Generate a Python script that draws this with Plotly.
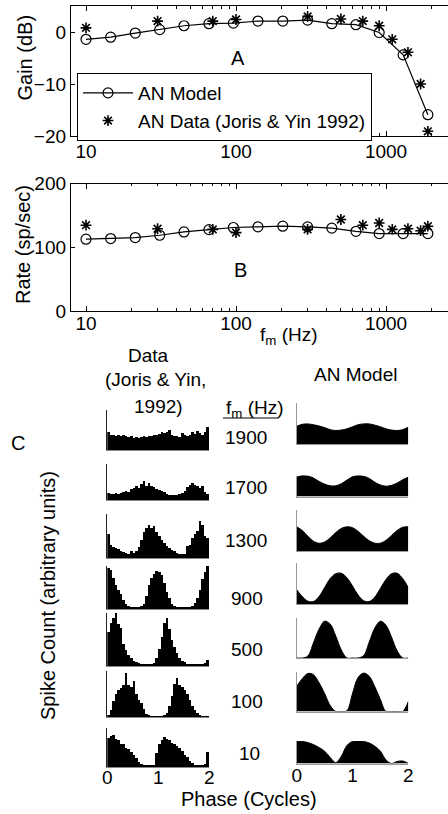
import plotly.graph_objects as go

W, H = 448, 814
FONT = "Liberation Sans"

# ---------------- Panels A / B data ----------------
fm_model = [10, 14.6, 21.3, 31, 45, 66, 96, 140, 205, 300, 435, 630, 900, 1300, 1900]
gain_model = [-1.4, -1.0, -0.2, 0.45, 1.2, 1.6, 1.7, 2.1, 2.1, 2.3, 1.6, 1.4, -0.1, -4.4, -15.9]
rate_model = [112.6, 113.6, 115.2, 118.8, 124, 127.7, 131, 132, 133, 132, 130, 125, 121.5, 121.5, 121.5]

fm_data = [10, 30, 70, 100, 300, 500, 700, 900, 1100, 1400, 1700, 1900]
gain_data = [0.8, 2.1, 2.1, 2.4, 3.0, 2.5, 2.1, 1.2, -1.4, -3.9, -10.0, -19.1]
rate_data = [134.6, 129, 128, 123, 128, 143.5, 134.6, 138, 128, 129, 126, 133]

x_ticks = [10, 100, 1000]
x_tick_text = ["10", "100", "1000"]
x_minor_ticks = [20, 30, 40, 50, 60, 70, 80, 90, 200, 300, 400, 500, 600, 700, 800, 900, 2000]
gain_ticks = [-20, -10, 0]
rate_ticks = [0, 100, 200]

# ---------------- Panel C data ----------------
row_labels = ["1900", "1700", "1300", "900", "500", "100", "10"]
phase_bin_centers = [round(0.025 + 0.05 * i, 3) for i in range(40)]
phase_bin_width = 0.05

hist_1900 = [0.45, 0.38, 0.37, 0.36, 0.38, 0.35, 0.37, 0.34, 0.33, 0.36, 0.31, 0.33, 0.30, 0.32, 0.35, 0.33, 0.36, 0.34, 0.38, 0.37,
             0.40, 0.46, 0.42, 0.44, 0.50, 0.38, 0.34, 0.36, 0.33, 0.42, 0.37, 0.35, 0.37, 0.44, 0.40, 0.47, 0.42, 0.38, 0.45, 0.58]
hist_1700 = [0.20, 0.18, 0.17, 0.19, 0.17, 0.20, 0.22, 0.24, 0.22, 0.30, 0.33, 0.38, 0.32, 0.45, 0.52, 0.40, 0.48, 0.38, 0.35, 0.30,
             0.28, 0.25, 0.22, 0.18, 0.15, 0.13, 0.14, 0.15, 0.16, 0.20, 0.25, 0.35, 0.42, 0.46, 0.43, 0.40, 0.32, 0.38, 0.22, 0.18]
hist_1300 = [0.55, 0.30, 0.25, 0.22, 0.20, 0.15, 0.14, 0.12, 0.10, 0.16, 0.12, 0.15, 0.25, 0.42, 0.60, 0.68, 0.74, 0.68, 0.72, 0.60,
             0.50, 0.42, 0.35, 0.28, 0.22, 0.18, 0.15, 0.12, 0.10, 0.08, 0.10, 0.28, 0.30, 0.45, 0.55, 0.62, 0.85, 0.75, 0.50, 0.45]
hist_900 = [0.95, 0.90, 0.72, 0.55, 0.45, 0.35, 0.20, 0.12, 0.08, 0.05, 0.04, 0.05, 0.04, 0.06, 0.12, 0.30, 0.55, 0.72, 0.82, 0.88,
            0.85, 0.80, 0.60, 0.40, 0.25, 0.12, 0.06, 0.04, 0.03, 0.04, 0.03, 0.04, 0.05, 0.08, 0.15, 0.25, 0.45, 0.70, 0.85, 1.00]
hist_500 = [0.65, 0.82, 0.90, 1.00, 0.80, 0.72, 0.42, 0.30, 0.20, 0.15, 0.10, 0.07, 0.05, 0.04, 0.03, 0.03, 0.03, 0.04, 0.06, 0.15,
            0.32, 0.55, 0.82, 0.90, 0.70, 0.50, 0.35, 0.25, 0.15, 0.10, 0.07, 0.04, 0.03, 0.03, 0.03, 0.03, 0.04, 0.03, 0.05, 0.12]
hist_100 = [0.05, 0.15, 0.35, 0.50, 0.58, 0.62, 0.70, 0.95, 0.70, 0.65, 0.78, 0.50, 0.38, 0.30, 0.18, 0.06, 0.03, 0.02, 0.02, 0.02,
            0.02, 0.02, 0.03, 0.08, 0.25, 0.45, 0.72, 0.85, 0.70, 0.65, 0.58, 0.50, 0.38, 0.25, 0.15, 0.08, 0.04, 0.02, 0.02, 0.02]
hist_10 = [0.75, 0.80, 0.82, 0.72, 0.68, 0.60, 0.58, 0.50, 0.45, 0.38, 0.30, 0.22, 0.12, 0.07, 0.05, 0.04, 0.04, 0.05, 0.04, 0.35,
           0.60, 0.70, 0.76, 0.72, 0.70, 0.62, 0.60, 0.55, 0.48, 0.42, 0.32, 0.25, 0.15, 0.10, 0.05, 0.04, 0.04, 0.05, 0.08, 0.38]
data_hists = [hist_1900, hist_1700, hist_1300, hist_900, hist_500, hist_100, hist_10]

model_phase = [0.0, 0.1, 0.2, 0.3, 0.4, 0.5, 0.6, 0.7, 0.8, 0.9, 1.0, 1.1, 1.2, 1.3, 1.4, 1.5, 1.6, 1.7, 1.8, 1.9, 2.0]
model_1900 = [0.43, 0.48, 0.49, 0.47, 0.44, 0.40, 0.35, 0.33, 0.34, 0.37, 0.42, 0.47, 0.49, 0.49, 0.46, 0.42, 0.37, 0.34, 0.33, 0.35, 0.41]
model_1700 = [0.92, 1.00, 0.98, 0.88, 0.72, 0.59, 0.51, 0.51, 0.61, 0.78, 0.94, 1.00, 0.96, 0.86, 0.68, 0.55, 0.49, 0.53, 0.64, 0.80, 0.92]
model_1300 = [0.59, 0.50, 0.36, 0.24, 0.19, 0.22, 0.32, 0.45, 0.55, 0.59, 0.57, 0.48, 0.36, 0.25, 0.19, 0.19, 0.26, 0.38, 0.50, 0.58, 0.59]
model_900 = [0.35, 0.18, 0.07, 0.06, 0.18, 0.40, 0.62, 0.74, 0.75, 0.64, 0.44, 0.22, 0.08, 0.06, 0.17, 0.38, 0.60, 0.74, 0.75, 0.62, 0.40]
model_500 = [0.0, 0.0, 0.05, 0.38, 0.72, 0.92, 0.85, 0.55, 0.20, 0.0, 0.0, 0.0, 0.06, 0.40, 0.75, 0.92, 0.82, 0.52, 0.18, 0.0, 0.0]
model_100 = [0.63, 0.82, 0.95, 0.92, 0.72, 0.45, 0.15, 0.0, 0.0, 0.02, 0.45, 0.85, 0.96, 0.88, 0.62, 0.30, 0.0, 0.0, 0.0, 0.0, 0.25]
model_10 = [1.00, 0.98, 0.93, 0.84, 0.71, 0.55, 0.27, 0.04, 0.32, 0.80, 0.98, 1.00, 0.98, 0.91, 0.77, 0.55, 0.16, 0.0, 0.09, 0.11, 0.0]
model_curves = [model_1900, model_1700, model_1300, model_900, model_500, model_100, model_10]

# ---------------- layout geometry (pixels) ----------------
def px_x(p):
    return p / W

def px_y(p):
    return 1 - p / H

# (bottom px, top px) of each small panel
data_rows_px = [(450, 410), (500, 464), (558, 514), (609, 566), (666, 613), (717, 671), (767, 728)]
model_rows_px = [(444, 403), (496.5, 475.5), (551, 510), (604, 563), (658, 618), (711.5, 671.5), (763.5, 741)]
data_x_px = (107.3, 209.3)
model_x_px = (296.7, 408.3)

fig = go.Figure()

# Panel A
fig.add_trace(go.Scatter(x=fm_model, y=gain_model, mode="lines+markers", name="AN Model",
                         line=dict(color="black", width=1.2),
                         marker=dict(symbol="circle-open", size=10, color="black", line=dict(width=1.2)),
                         xaxis="x", yaxis="y"))
fig.add_trace(go.Scatter(x=fm_data, y=gain_data, mode="markers", name="AN Data (Joris & Yin 1992)",
                         marker=dict(symbol="asterisk-open", size=9, color="black", line=dict(width=1.6, color="black")),
                         xaxis="x", yaxis="y"))
# Panel B
fig.add_trace(go.Scatter(x=fm_model, y=rate_model, mode="lines+markers", showlegend=False,
                         line=dict(color="black", width=1.2),
                         marker=dict(symbol="circle-open", size=10, color="black", line=dict(width=1.2)),
                         xaxis="x2", yaxis="y2"))
fig.add_trace(go.Scatter(x=fm_data, y=rate_data, mode="markers", showlegend=False,
                         marker=dict(symbol="asterisk-open", size=9, color="black", line=dict(width=1.6, color="black")),
                         xaxis="x2", yaxis="y2"))

main_x = dict(type="log", range=[0.9, 3.413], domain=[px_x(71), 1.0], showgrid=False, zeroline=False,
              showline=True, linecolor="black", linewidth=1.3, mirror="ticks", ticks="inside", ticklen=5,
              tickcolor="black", tickvals=x_ticks, ticktext=x_tick_text, automargin=False,
              minor=dict(ticks="inside", ticklen=2.5, tickcolor="black", tickvals=x_minor_ticks, showgrid=False),
              tickfont=dict(family=FONT, size=19, color="black"))
main_y = dict(showgrid=False, zeroline=False, showline=True, linecolor="black", linewidth=1.3,
              ticks="inside", ticklen=4, tickcolor="black", automargin=False,
              tickfont=dict(family=FONT, size=19, color="black"))

layout = dict(
    template="none",
    width=W, height=H, margin=dict(l=0, r=0, t=0, b=0, pad=0, autoexpand=False),
    paper_bgcolor="white", plot_bgcolor="white",
    font=dict(family=FONT, size=19, color="black"),
    showlegend=True,
    legend=dict(x=px_x(77), y=px_y(73), xanchor="left", yanchor="top",
                bordercolor="black", borderwidth=1, bgcolor="white", itemwidth=50,
                font=dict(family=FONT, size=19, color="black"), tracegroupgap=0),
    bargap=0,
)
layout["xaxis"] = dict(main_x, anchor="y", ticklabelstandoff=-2)
layout["yaxis"] = dict(main_y, anchor="x", range=[-20, 5], domain=[px_y(136), px_y(6)], tickvals=gain_ticks)
layout["xaxis2"] = dict(main_x, anchor="y2", ticklabelstandoff=-5)
layout["yaxis2"] = dict(main_y, anchor="x2", range=[0, 200], domain=[px_y(311), px_y(183.5)], tickvals=rate_ticks)

# Panel C small axes
for i in range(7):
    n = 3 + i
    fig.add_trace(go.Bar(x=phase_bin_centers, y=data_hists[i], width=phase_bin_width,
                         marker=dict(color="black", line=dict(width=0)), showlegend=False,
                         xaxis=f"x{n}", yaxis=f"y{n}"))
    b, t = data_rows_px[i]
    last = i == 6
    layout[f"xaxis{n}"] = dict(domain=[px_x(data_x_px[0]), px_x(data_x_px[1])], range=[0, 2], anchor=f"y{n}",
                               showgrid=False, zeroline=False, showline=True, linecolor="#888", linewidth=1,
                               ticks="", tickvals=[0, 1, 2], showticklabels=last, automargin=False,
                               ticklabelstandoff=-7,
                               tickfont=dict(family=FONT, size=19, color="black"))
    layout[f"yaxis{n}"] = dict(domain=[px_y(b), px_y(t)], range=[0, 1], anchor=f"x{n}",
                               showgrid=False, zeroline=False, showline=True, linecolor="#222", linewidth=1,
                               ticks="", showticklabels=False, automargin=False)

for i in range(7):
    n = 10 + i
    fig.add_trace(go.Scatter(x=model_phase, y=model_curves[i], mode="lines", fill="tozeroy",
                             fillcolor="black", line=dict(color="black", width=1, shape="spline"),
                             showlegend=False, xaxis=f"x{n}", yaxis=f"y{n}"))
    b, t = model_rows_px[i]
    last = i == 6
    layout[f"xaxis{n}"] = dict(domain=[px_x(model_x_px[0]), px_x(model_x_px[1])], range=[0, 2], anchor=f"y{n}",
                               showgrid=False, zeroline=False, showline=True, linecolor="#999", linewidth=1,
                               ticks="", tickvals=[0, 1, 2], showticklabels=last, automargin=False,
                               ticklabelstandoff=-5,
                               tickfont=dict(family=FONT, size=19, color="black"))
    layout[f"yaxis{n}"] = dict(domain=[px_y(b), px_y(t)], range=[0, 1.0], anchor=f"x{n}",
                               showgrid=False, zeroline=False, showline=True, linecolor="#999", linewidth=1.2,
                               ticks="", showticklabels=False, automargin=False)

def label(text, x, y, size=19, angle=0):
    return dict(text=text, x=px_x(x), y=px_y(y), xref="paper", yref="paper", showarrow=False,
                xanchor="center", yanchor="middle", textangle=angle,
                font=dict(family=FONT, size=size, color="black"))

annotations = [
    label("Gain (dB)", 24, 57.5, 20, -90),
    label("Rate (sp/sec)", 23, 245, 20, -90),
    label("A", 238, 58, 20),
    label("B", 240, 270, 20),
    label("f<sub>m</sub> (Hz)", 289, 336, 19),
    label("Data", 148, 356),
    label("(Joris & Yin,", 155, 379),
    label("1992)", 158, 406),
    label("AN Model", 355, 374),
    label("f<sub>m</sub> (Hz)", 255, 409),
    label("C", 18, 443, 20),
    label("Spike Count (arbitrary units)", 48, 596, 20, -90),
    label("Phase (Cycles)", 249, 799, 20),
]
row_label_y = [437, 488, 540, 598, 649, 701, 753]
row_label_x = [246, 246, 246, 247, 247, 247, 249]
for txt, lx, ly in zip(row_labels, row_label_x, row_label_y):
    annotations.append(label(txt, lx, ly))
layout["annotations"] = annotations
layout["shapes"] = [dict(type="line", xref="paper", yref="paper", x0=px_x(223), x1=px_x(279),
                         y0=px_y(418), y1=px_y(418), line=dict(color="black", width=1))]

fig.update_layout(**layout)
fig.write_html("out.html", config={"displayModeBar": False},
               post_script="document.body.style.margin='0';document.body.style.padding='0';"
                           "document.body.style.overflow='hidden';")
